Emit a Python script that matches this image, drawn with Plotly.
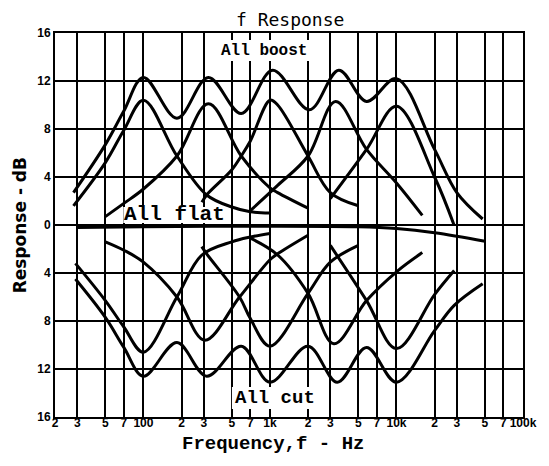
import math
import plotly.graph_objects as go

# ---- axis ticks ----
freq_ticks = [20, 30, 50, 70, 100, 200, 300, 500, 700, 1000, 2000, 3000, 5000, 7000,
              10000, 20000, 30000, 50000, 70000, 100000]
freq_labels = ["2", "3", "5", "7", "100", "2", "3", "5", "7", "1k", "2", "3", "5", "7",
               "10k", "2", "3", "5", "7", "100k"]
db_ticks = [-16, -12, -8, -4, 0, 4, 8, 12, 16]
db_labels = ["16", "12", "8", "4", "0", "4", "8", "12", "16"]

# ---- curves (frequency Hz, response dB) ----
all_boost_f = [28, 50, 70, 100, 184, 326, 593, 1050, 2050, 3500, 5800, 10000, 20000, 30000, 48000]
all_boost_db = [2.7, 6.7, 9.5, 12.3, 8.9, 12.3, 9.3, 12.9, 9.6, 12.9, 10.3, 12.2, 6.3, 2.7, 0.5]

boost_100_f = [28, 50, 70, 100, 184, 316, 500, 700, 1000]
boost_100_db = [1.6, 5.2, 7.9, 10.4, 5.75, 2.5, 1.5, 1.1, 1.0]

boost_330_f = [50, 70, 100, 184, 326, 593, 1000, 1150, 2000]
boost_330_db = [0.7, 1.8, 3.0, 5.75, 10.1, 5.75, 3.1, 2.7, 1.4]

boost_1k_f = [290, 316, 500, 593, 700, 1000, 1150, 2000, 3000, 5000]
boost_1k_db = [1.9, 2.5, 4.6, 5.75, 7.0, 10.4, 10.0, 5.75, 2.7, 1.6]

boost_3k3_f = [700, 1150, 2000, 3300, 5800, 10000, 16000]
boost_3k3_db = [1.2, 3.3, 5.75, 10.3, 6.3, 3.5, 0.8]

boost_10k_f = [3000, 5800, 10000, 20000, 28500]
boost_10k_db = [2.2, 6.3, 9.9, 4.0, 0.0]

all_flat_f = [30, 100, 1000, 5000, 10000, 20000, 50000]
all_flat_db = [-0.2, -0.15, -0.1, -0.15, -0.3, -0.65, -1.35]

cut_100_f = [29, 50, 70, 100, 184, 290, 500, 700, 1000]
cut_100_db = [-3.2, -6.3, -8.5, -10.6, -6.0, -2.5, -1.4, -1.0, -0.7]

cut_330_f = [50, 70, 100, 184, 305, 575, 1000, 1150, 2000]
cut_330_db = [-1.4, -2.1, -3.1, -6.0, -9.6, -6.0, -2.9, -2.4, -0.85]

cut_1k_f = [289, 316, 575, 700, 1000, 2000, 3000, 5000]
cut_1k_db = [-1.8, -2.4, -6.0, -7.8, -10.1, -5.7, -3.1, -1.7]

cut_3k3_f = [700, 1150, 2000, 3200, 5800, 10000, 16000]
cut_3k3_db = [-1.1, -2.5, -5.7, -9.9, -6.3, -3.9, -2.3]

cut_10k_f = [3000, 5800, 10000, 20000, 28600]
cut_10k_db = [-1.7, -6.3, -10.3, -5.8, -3.8]

all_cut_f = [29, 50, 70, 100, 184, 316, 593, 1000, 2000, 3400, 5800, 10000, 20000, 28600, 48000]
all_cut_db = [-4.5, -7.7, -10.2, -12.6, -9.8, -12.6, -10.1, -13.1, -10.1, -13.1, -10.2, -13.1, -8.8, -6.7, -4.9]

curves = [
    (all_boost_f, all_boost_db), (boost_100_f, boost_100_db), (boost_330_f, boost_330_db),
    (boost_1k_f, boost_1k_db), (boost_3k3_f, boost_3k3_db), (boost_10k_f, boost_10k_db),
    (all_flat_f, all_flat_db),
    (cut_100_f, cut_100_db), (cut_330_f, cut_330_db), (cut_1k_f, cut_1k_db),
    (cut_3k3_f, cut_3k3_db), (cut_10k_f, cut_10k_db), (all_cut_f, all_cut_db),
]

fig = go.Figure()
for fx, dy in curves:
    fig.add_trace(go.Scatter(
        x=fx, y=dy, mode="lines",
        line=dict(color="black", width=3, shape="spline", smoothing=1.0),
        showlegend=False, hoverinfo="skip"))

tick_font = dict(family="Liberation Sans", size=12, color="black", weight="bold")

fig.update_layout(
    width=541, height=458,
    margin=dict(l=47, r=21, t=25, b=49),
    paper_bgcolor="white", plot_bgcolor="white",
    xaxis=dict(type="log", range=[math.log10(20), math.log10(100000)],
               tickmode="array", tickvals=freq_ticks, ticktext=freq_labels,
               showgrid=True, gridcolor="black", gridwidth=1.5,
               showline=True, mirror=True, linecolor="black", linewidth=2,
               ticks="", zeroline=False, tickfont=tick_font, tickangle=0,
               ticklabelstandoff=-6),
    yaxis=dict(range=[-16, 16], tickmode="array", tickvals=db_ticks, ticktext=db_labels,
               showgrid=True, gridcolor="black", gridwidth=1.5,
               showline=True, mirror=True, linecolor="black", linewidth=2,
               ticks="", zeroline=False, tickfont=tick_font),
)

# white patches behind the in-plot labels (paper coordinates)
for x0, x1, y0, y1 in [(0.349, 0.543, 0.927, 0.982),
                       (0.146, 0.368, 0.505, 0.547),
                       (0.378, 0.564, 0.021, 0.078)]:
    fig.add_shape(type="rect", xref="paper", yref="paper", x0=x0, x1=x1, y0=y0, y1=y1,
                  fillcolor="white", line=dict(width=0), layer="above")

mono = "Liberation Mono"
fig.add_annotation(text="f Response", xref="paper", yref="paper", x=0.503, y=1.036,
                   showarrow=False, xanchor="center", yanchor="middle",
                   font=dict(family="DejaVu Sans Mono", size=18, color="black"))
fig.add_annotation(text="<b>All boost</b>", xref="paper", yref="paper", x=0.446, y=0.953,
                   showarrow=False, xanchor="center", yanchor="middle",
                   font=dict(family=mono, size=16, color="black"))
fig.add_annotation(text="<b>All flat</b>", xref="paper", yref="paper", x=0.256, y=0.527,
                   showarrow=False, xanchor="center", yanchor="middle",
                   font=dict(family=mono, size=21, color="black"))
fig.add_annotation(text="<b>All cut</b>", xref="paper", yref="paper", x=0.471, y=0.049,
                   showarrow=False, xanchor="center", yanchor="middle",
                   font=dict(family=mono, size=19, color="black"))
fig.add_annotation(text="<b>Response - dB</b>", xref="paper", yref="paper", x=-0.074, y=0.5,
                   textangle=-90, showarrow=False, xanchor="center", yanchor="middle",
                   font=dict(family="DejaVu Sans", size=17, color="black"))
fig.add_annotation(text="<b>Frequency,f - Hz</b>", xref="paper", yref="paper", x=0.465, y=-0.07,
                   showarrow=False, xanchor="center", yanchor="middle",
                   font=dict(family=mono, size=19, color="black"))

fig.write_html("out.html")
